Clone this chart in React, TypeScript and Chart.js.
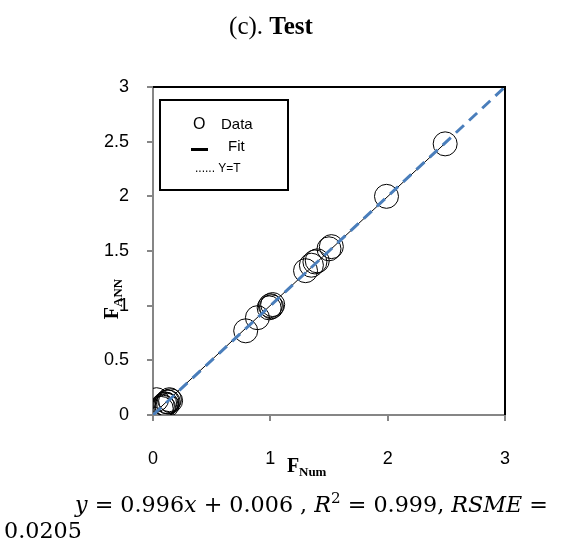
import React, { useEffect, useRef } from "react";
import { Chart, registerables } from "chart.js";

Chart.register(...registerables);

const numX = [0.03, 0.07, 0.08, 0.09, 0.10, 0.11, 0.12, 0.12, 0.13, 0.14, 0.15, 0.79, 0.89, 0.99, 1.00, 1.01, 1.02, 1.30, 1.35, 1.38, 1.40, 1.50, 1.52, 1.99, 2.49];
const annY = [0.14, 0.06, 0.08, 0.07, 0.10, 0.10, 0.12, 0.09, 0.12, 0.14, 0.13, 0.77, 0.89, 0.98, 1.00, 0.99, 1.01, 1.32, 1.37, 1.40, 1.41, 1.52, 1.54, 2.00, 2.48];
const fitSlope = 0.996;
const fitIntercept = 0.006;
const fitRange = [0.03, 2.49];
const identityRange = [0, 3];
const axisTicks = [0, 0.5, 1, 1.5, 2, 2.5, 3];
const xTickLabels = ["0", "1", "2", "3"];

const W = 563;
const H = 544;

export default function App() {
  const ref = useRef<HTMLCanvasElement | null>(null);

  useEffect(() => {
    if (!ref.current) return;
    const dataPts = numX.map((x, i) => ({ x, y: annY[i] }));
    const fitPts = fitRange.map((x) => ({ x, y: fitSlope * x + fitIntercept }));
    const idPts = identityRange.map((x) => ({ x, y: x }));

    const textPlugin = {
      id: "texts",
      afterDraw(chart: any) {
        const ctx = chart.ctx as CanvasRenderingContext2D;
        const a = chart.chartArea;
        ctx.save();
        // plot border top/right
        ctx.strokeStyle = "#000";
        ctx.lineWidth = 2;
        ctx.beginPath();
        ctx.moveTo(a.left, a.top);
        ctx.lineTo(a.right, a.top);
        ctx.lineTo(a.right, a.bottom);
        ctx.stroke();

        // Title
        ctx.fillStyle = "#000";
        ctx.textBaseline = "alphabetic";
        ctx.textAlign = "left";
        const t1 = "(c). ";
        ctx.font = "25px 'Liberation Serif'";
        const w1 = ctx.measureText(t1).width;
        ctx.font = "bold 25px 'Liberation Serif'";
        const w2 = ctx.measureText("Test").width;
        const tx = 271 - (w1 + w2) / 2;
        ctx.font = "25px 'Liberation Serif'";
        ctx.fillText(t1, tx, 34);
        ctx.font = "bold 25px 'Liberation Serif'";
        ctx.fillText("Test", tx + w1, 34);

        // Legend box
        ctx.fillStyle = "#fff";
        ctx.fillRect(160, 100, 128, 90);
        ctx.strokeStyle = "#000";
        ctx.lineWidth = 2;
        ctx.strokeRect(160, 100, 128, 90);
        ctx.fillStyle = "#000";
        ctx.font = "16px 'Liberation Sans'";
        ctx.fillText("O", 193, 129);
        ctx.font = "15px 'Liberation Sans'";
        ctx.fillText("Data", 221, 129);
        ctx.fillText("Fit", 228, 151);
        ctx.fillRect(191, 148, 17, 3);
        ctx.font = "12px 'Liberation Sans'";
        ctx.fillText("...... Y=T", 195, 172);

        // Y axis title
        ctx.save();
        ctx.translate(118, 299);
        ctx.rotate(-Math.PI / 2);
        ctx.font = "bold 20px 'Liberation Serif'";
        const fw = ctx.measureText("F").width;
        ctx.font = "bold 13px 'Liberation Serif'";
        const sw = ctx.measureText("ANN").width;
        const sx = -(fw + sw) / 2;
        ctx.font = "bold 20px 'Liberation Serif'";
        ctx.fillText("F", sx, 0);
        ctx.font = "bold 13px 'Liberation Serif'";
        ctx.fillText("ANN", sx + fw, 4);
        ctx.restore();

        // X axis title
        ctx.font = "bold 20px 'Liberation Serif'";
        ctx.fillText("F", 287, 472);
        ctx.font = "bold 13px 'Liberation Serif'";
        ctx.fillText("Num", 299, 476);

        // Equation
        const segs: [string, string][] = [
          ["y", "italic"],
          [" = 0.996", "normal"],
          ["x", "italic"],
          [" + 0.006 , ", "normal"],
          ["R", "italic"],
          ["2", "sup"],
          [" = 0.999, ", "normal"],
          ["RSME", "italic"],
          [" =", "normal"],
        ];
        const fontFor = (s: string) =>
          s === "italic" ? "italic 22px 'DejaVu Serif'" : s === "sup" ? "15px 'DejaVu Serif'" : "22px 'DejaVu Serif'";
        let total = 0;
        for (const [t, s] of segs) {
          ctx.font = fontFor(s);
          total += ctx.measureText(t).width;
        }
        const scale = 473 / total;
        ctx.save();
        ctx.translate(75, 512);
        ctx.scale(scale, 1);
        let cx = 0;
        for (const [t, s] of segs) {
          ctx.font = fontFor(s);
          ctx.fillText(t, cx, s === "sup" ? -9 : 0);
          cx += ctx.measureText(t).width;
        }
        ctx.restore();
        ctx.save();
        ctx.translate(4, 538);
        ctx.scale(scale, 1);
        ctx.font = "22px 'DejaVu Serif'";
        ctx.fillText("0.0205", 0, 0);
        ctx.restore();

        ctx.restore();
      },
    };

    const chart = new Chart(ref.current, {
      type: "scatter",
      data: {
        datasets: [
          {
            label: "Y=T",
            data: idPts,
            showLine: true,
            borderColor: "#4a7ebb",
            borderWidth: 3,
            borderDash: [11, 7],
            pointRadius: 0,
            order: 0,
          },
          {
            label: "Fit",
            data: fitPts,
            showLine: true,
            borderColor: "#000",
            borderWidth: 1,
            pointRadius: 0,
            order: 1,
          },
          {
            label: "Data",
            data: dataPts,
            pointRadius: 12,
            pointBorderColor: "#000",
            pointBorderWidth: 1,
            pointBackgroundColor: "rgba(0,0,0,0)",
            order: 2,
          },
        ],
      },
      options: {
        responsive: false,
        animation: false,
        devicePixelRatio: 1,
        layout: { padding: { left: 83, right: 58, top: 87, bottom: 69 } },
        plugins: { legend: { display: false }, tooltip: { enabled: false } },
        scales: {
          x: {
            type: "linear",
            min: 0,
            max: 3,
            afterFit: (s: any) => {
              s.height = 60;
            },
            afterBuildTicks: (s: any) => {
              s.ticks = xTickLabels.map((v) => ({ value: Number(v) }));
            },
            ticks: {
              color: "#000",
              font: { family: "'Liberation Sans'", size: 18 },
              padding: 27,
              maxRotation: 0,
              callback: (v: any) => String(v),
            },
            grid: { drawOnChartArea: false, drawTicks: true, tickLength: 6, color: "#868686", lineWidth: 2 },
            border: { color: "#868686", width: 2 },
          },
          y: {
            type: "linear",
            min: 0,
            max: 3,
            afterFit: (s: any) => {
              s.width = 70;
            },
            afterBuildTicks: (s: any) => {
              s.ticks = axisTicks.map((v) => ({ value: v }));
            },
            ticks: {
              color: "#000",
              font: { family: "'Liberation Sans'", size: 18 },
              padding: 18,
              callback: (v: any) => String(v),
            },
            grid: { drawOnChartArea: false, drawTicks: true, tickLength: 6, color: "#868686", lineWidth: 2 },
            border: { color: "#868686", width: 2 },
          },
        },
      },
      plugins: [textPlugin],
    } as any);
    return () => chart.destroy();
  }, []);

  return (
    <div style={{ position: "fixed", left: 0, top: 0, width: W, height: H, background: "#fff" }}>
      <canvas ref={ref} width={W} height={H} style={{ width: W, height: H, display: "block" }} />
    </div>
  );
}
